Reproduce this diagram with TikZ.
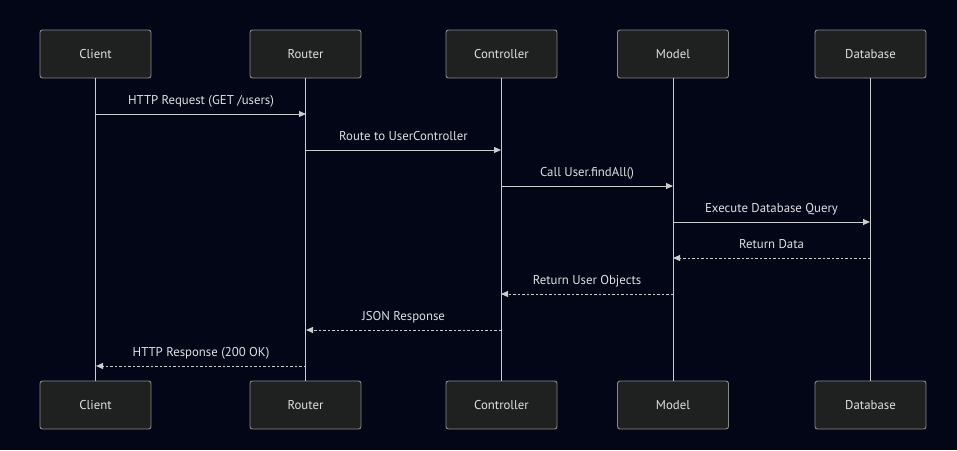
\documentclass[tikz,border=0pt]{standalone}
\usepackage{fontspec}
\setmainfont{PT Sans}
\usetikzlibrary{arrows.meta}
\definecolor{bg}{HTML}{020617}
\definecolor{boxfill}{HTML}{1F2020}
\definecolor{boxline}{HTML}{8A8A8A}
\definecolor{lineclr}{HTML}{CCCCCC}
\definecolor{txt}{HTML}{E0E0E0}
\begin{document}
\begin{tikzpicture}[x=1pt,y=-1pt,
  actor/.style={draw=boxline,fill=boxfill,rounded corners=2.5pt,minimum width=111pt,minimum height=48pt,text=txt,font=\fontsize{12.8}{14}\selectfont,line width=0.9pt},
  life/.style={draw=lineclr,line width=1pt},
  msg/.style={draw=lineclr,line width=1pt,-{Triangle[length=7pt,width=6pt]}},
  reply/.style={msg,dash pattern=on 2.5pt off 2pt},
  lbl/.style={text=txt,font=\fontsize{12.8}{14}\selectfont,inner sep=0pt,anchor=base,yshift=9.5pt}]
\fill[bg] (0,0) rectangle (957,450);
\useasboundingbox (0,0) rectangle (957,450);
\foreach \n/\x/\t in {c/95.5/Client,r/305.5/Router,k/501.5/Controller,m/673/Model,d/870.5/Database}{
  \node[actor] (\n top) at (\x,54) {\t};
  \node[actor] (\n bot) at (\x,405) {\t};
  \draw[life] (\n top.south) -- (\n bot.north);
}
\foreach \n/\x in {c/96,r/306,k/501,m/673,d/870}{
  \foreach \i/\y in {1/114,2/150,3/186,4/222,5/258,6/294,7/330,8/366}{
    \coordinate (\n\i) at (\x,\y);
  }
}
\draw[msg] (c1) -- node[lbl] {HTTP Request (GET /users)} (r1);
\draw[msg] (r2) -- node[lbl] {Route to UserController} (k2);
\draw[msg] (k3) -- node[lbl] {Call User.findAll()} (m3);
\draw[msg] (m4) -- node[lbl] {Execute Database Query} (d4);
\draw[reply] (d5) -- node[lbl] {Return Data} (m5);
\draw[reply] (m6) -- node[lbl] {Return User Objects} (k6);
\draw[reply] (k7) -- node[lbl] {JSON Response} (r7);
\draw[reply] (r8) -- node[lbl] {HTTP Response (200 OK)} (c8);
\end{tikzpicture}
\end{document}
